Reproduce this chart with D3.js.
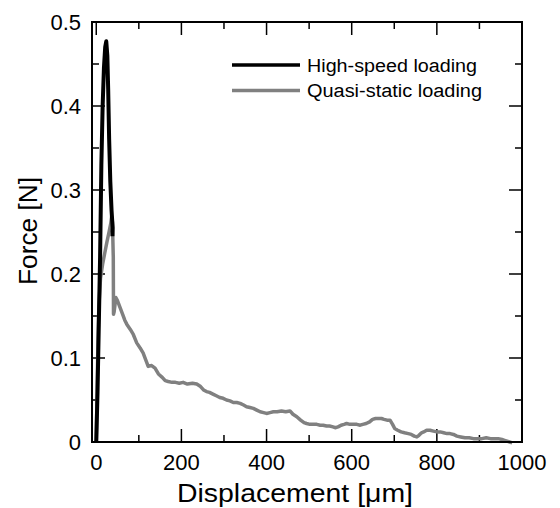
<!DOCTYPE html>
<html>
<head>
<meta charset="utf-8">
<script src="https://cdn.jsdelivr.net/npm/d3@7"></script>
<style>
  body { margin: 0; background: #fff; }
  svg text { font-family: "Liberation Sans", Arial, sans-serif; fill: #000; }
</style>
</head>
<body>
<svg id="chart" width="560" height="508"></svg>
<script>
// ---- data ----
var xTicks = [0, 200, 400, 600, 800, 1000];
var yTicks = [0, 0.1, 0.2, 0.3, 0.4, 0.5];
var yTickLabels = ["0", "0.1", "0.2", "0.3", "0.4", "0.5"];

// high-speed loading: displacement [um], force [N]
var highDisp  = [0, 3, 6, 9, 12, 15, 18, 21, 23.5, 26, 28, 30.3, 33, 36, 38.5, 38];
var highForce = [0, 0.06, 0.14, 0.22, 0.33, 0.40, 0.445, 0.47, 0.477, 0.46, 0.42, 0.36, 0.31, 0.275, 0.255, 0.245];

// quasi-static loading
var quasiDisp  = [0, 2, 4, 6, 10, 15, 20, 25, 30, 34, 36, 38, 40, 40.5, 42, 46, 50, 56, 62, 67, 72, 80, 87, 95, 103,
                  110, 116, 122, 130, 138, 146, 155, 162, 169, 178, 186, 195, 204, 214, 226, 236, 245, 252, 259, 266,
                  274, 282, 290, 298, 306, 314, 322, 330, 338, 346, 353, 361, 369, 377, 385, 393, 400, 408, 416, 425,
                  435, 445, 455, 462, 471, 480, 488, 494, 502, 510, 518, 526, 533, 541, 548, 556, 561, 568, 575, 582,
                  588, 596, 604, 612, 620, 626, 634, 642, 649, 656, 663, 670, 676, 683, 690, 696, 701, 708, 716, 724,
                  733, 740, 747, 753, 758, 764, 769, 776, 784, 792, 800, 808, 816, 824, 831, 839, 847, 856, 866, 876,
                  886, 896, 906, 916, 926, 935, 944, 953, 959, 965, 971, 977];
var quasiForce = [0, 0.06, 0.12, 0.16, 0.195, 0.212, 0.225, 0.238, 0.25, 0.26, 0.268, 0.262, 0.22, 0.152, 0.155, 0.172,
                  0.168, 0.16, 0.152, 0.145, 0.14, 0.134, 0.128, 0.118, 0.112, 0.106, 0.098, 0.09, 0.091, 0.088, 0.081,
                  0.077, 0.073, 0.072, 0.071, 0.071, 0.070, 0.071, 0.069, 0.070, 0.069, 0.066, 0.062, 0.060, 0.059,
                  0.057, 0.055, 0.053, 0.052, 0.050, 0.049, 0.047, 0.047, 0.046, 0.044, 0.042, 0.041, 0.040, 0.038,
                  0.036, 0.035, 0.034, 0.035, 0.036, 0.036, 0.037, 0.036, 0.037, 0.033, 0.030, 0.026, 0.023, 0.022,
                  0.021, 0.021, 0.021, 0.020, 0.020, 0.019, 0.019, 0.018, 0.017, 0.018, 0.020, 0.021, 0.022, 0.021,
                  0.021, 0.021, 0.020, 0.021, 0.022, 0.024, 0.027, 0.028, 0.028, 0.028, 0.027, 0.026, 0.026, 0.021,
                  0.016, 0.014, 0.012, 0.011, 0.010, 0.009, 0.007, 0.006, 0.008, 0.011, 0.012, 0.014, 0.014, 0.013,
                  0.012, 0.012, 0.011, 0.010, 0.010, 0.009, 0.007, 0.006, 0.005, 0.005, 0.004, 0.004, 0.004, 0.005,
                  0.004, 0.004, 0.004, 0.003, 0.002, 0.001, 0.000, -0.001, 0.000, 0.001];

var seriesNames = ["High-speed loading", "Quasi-static loading"];
var seriesColors = ["#000000", "#808080"];

// ---- layout ----
var svg = d3.select("#chart");
var pLeft = 92, pRight = 522, pTop = 22, pBottom = 442;

var x = d3.scaleLinear().domain([-10, 1000]).range([pLeft, pRight]);
var y = d3.scaleLinear().domain([0, 0.5]).range([pBottom, pTop]);

var minorX = d3.range(0, 1001, 100);
var minorY = d3.range(0, 0.501, 0.05);

var g = svg.append("g");

// ticks on all four sides, pointing inward
function isMajorX(v) { return Math.round(v) % 200 === 0; }
function isMajorY(v) { return Math.round(v * 100) % 10 === 0; }

minorX.forEach(function(v) {
  var len = isMajorX(v) ? 13 : 7;
  g.append("line").attr("x1", x(v)).attr("x2", x(v)).attr("y1", pBottom).attr("y2", pBottom - len)
    .attr("stroke", "#000").attr("stroke-width", 1.5);
  g.append("line").attr("x1", x(v)).attr("x2", x(v)).attr("y1", pTop).attr("y2", pTop + len)
    .attr("stroke", "#000").attr("stroke-width", 1.5);
});
minorY.forEach(function(v) {
  var len = isMajorY(v) ? 13 : 7;
  g.append("line").attr("x1", pLeft).attr("x2", pLeft + len).attr("y1", y(v)).attr("y2", y(v))
    .attr("stroke", "#000").attr("stroke-width", 1.5);
  g.append("line").attr("x1", pRight).attr("x2", pRight - len).attr("y1", y(v)).attr("y2", y(v))
    .attr("stroke", "#000").attr("stroke-width", 1.5);
});

// tick labels
g.selectAll(".xl").data(xTicks).enter().append("text")
  .attr("x", function(d) { return x(d); })
  .attr("y", 470)
  .attr("text-anchor", "middle")
  .attr("font-size", "22px")
  .text(function(d) { return d; });

g.selectAll(".yl").data(yTicks).enter().append("text")
  .attr("x", 81)
  .attr("y", function(d) { return y(d) + 8; })
  .attr("text-anchor", "end")
  .attr("font-size", "22px")
  .text(function(d, i) { return yTickLabels[i]; });

// axis titles
svg.append("text")
  .attr("x", 177).attr("y", 502)
  .attr("font-size", "26px")
  .attr("textLength", 236)
  .attr("lengthAdjust", "spacingAndGlyphs")
  .text("Displacement [\u03bcm]");

svg.append("text")
  .attr("transform", "translate(37,285) rotate(-90)")
  .attr("font-size", "25px")
  .attr("textLength", 108)
  .attr("lengthAdjust", "spacingAndGlyphs")
  .text("Force [N]");

// curves
var line = d3.line()
  .x(function(d) { return x(d[0]); })
  .y(function(d) { return y(d[1]); });

var quasi = d3.zip(quasiDisp, quasiForce);
var high = d3.zip(highDisp, highForce);

svg.append("path").datum(quasi)
  .attr("d", line)
  .attr("fill", "none")
  .attr("stroke", seriesColors[1])
  .attr("stroke-width", 3.5)
  .attr("stroke-linejoin", "round");

svg.append("path").datum(high)
  .attr("d", line)
  .attr("fill", "none")
  .attr("stroke", seriesColors[0])
  .attr("stroke-width", 4)
  .attr("stroke-linejoin", "round");

// frame
svg.append("rect")
  .attr("x", pLeft).attr("y", pTop)
  .attr("width", pRight - pLeft).attr("height", pBottom - pTop)
  .attr("fill", "none").attr("stroke", "#000").attr("stroke-width", 2);

// legend
var legendLen = [170, 175];
var legend = svg.append("g");
seriesNames.forEach(function(name, i) {
  var ly = 65 + i * 25.5;
  legend.append("line")
    .attr("x1", 232).attr("x2", 300).attr("y1", ly).attr("y2", ly)
    .attr("stroke", seriesColors[i]).attr("stroke-width", 3.5);
  legend.append("text")
    .attr("x", 307).attr("y", ly + 6.5)
    .attr("font-size", "18px")
    .attr("textLength", legendLen[i])
    .attr("lengthAdjust", "spacingAndGlyphs")
    .text(name);
});
</script>
</body>
</html>
